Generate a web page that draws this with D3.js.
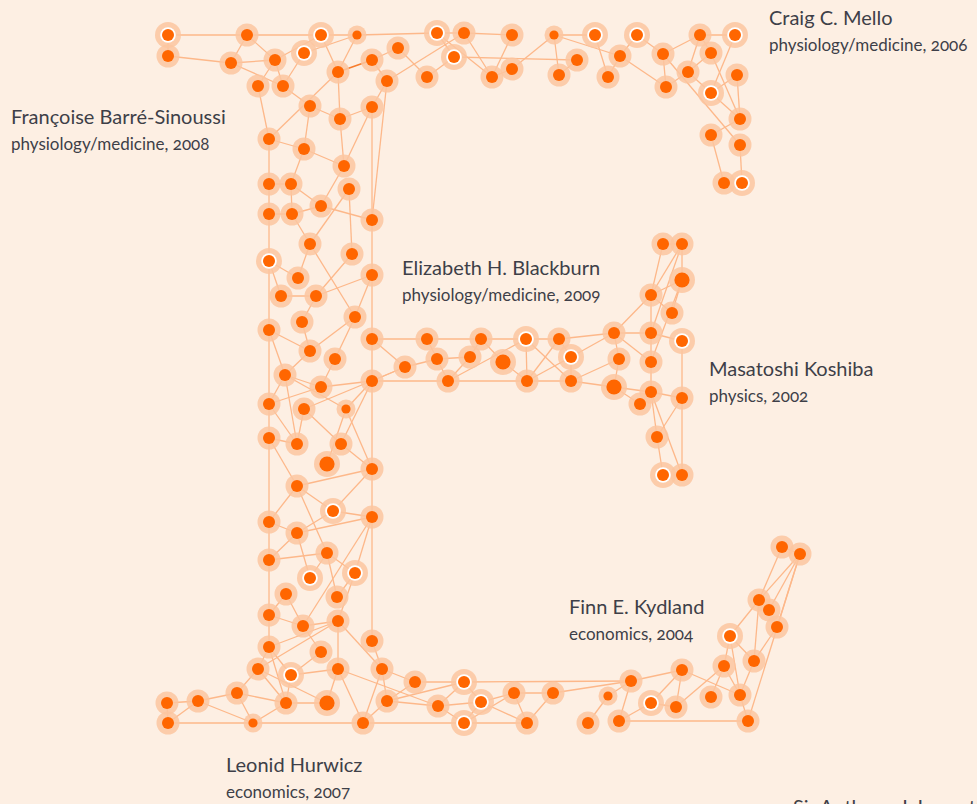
<!DOCTYPE html>
<html>
<head>
<meta charset="utf-8">
<script src="https://cdn.jsdelivr.net/npm/d3@7"></script>
<style>
  html, body { margin: 0; padding: 0; background: #fdefe3; overflow: hidden; }
  svg { display: block; }
  .name { font-family: Lato, "Noto Sans", sans-serif; font-size: 20px; fill: #3e3f48; }
  .field { font-family: Lato, "Noto Sans", sans-serif; font-size: 17px; fill: #3e3f48;
           font-variant-numeric: oldstyle-nums; font-feature-settings: "onum" 1; }
</style>
</head>
<body>
<script>
// node layout positions (px units)
const nodeX = [168,168,247,231,275,258,283,321,357,304,338,372,387,398,427,437,454,464,512,492,
  512,554,595,577,559,608,620,637,663,666,688,700,735,711,737,711,740,711,740,724,
  742,310,340,372,269,304,344,269,291,349,269,292,321,372,310,352,269,298,372,281,
  316,302,355,269,310,372,335,285,321,372,269,304,346,269,297,341,327,372,405,427,
  437,448,470,481,503,526,527,559,571,571,614,619,614,640,651,651,651,651,663,682,
  682,672,682,682,657,663,682,297,333,372,269,297,327,269,355,310,286,337,269,303,
  338,372,269,321,258,291,338,382,237,286,327,387,253,363,198,167,168,415,464,438,
  481,464,514,527,553,588,608,631,619,651,682,676,711,724,730,740,748,754,759,769,
  777,782,800];
const nodeY = [35,56,35,63,60,86,86,35,35,53,72,60,81,48,77,33,57,33,35,77,
  69,35,35,60,75,77,56,35,54,87,72,35,35,53,75,93,119,135,145,183,
  183,106,119,107,139,149,166,184,184,189,214,214,206,220,244,254,261,278,275,296,
  296,322,317,330,351,339,359,375,387,381,404,409,409,438,444,444,464,469,367,339,
  359,381,357,339,362,339,381,339,357,381,333,359,387,404,295,333,362,392,244,244,
  280,313,341,398,437,475,475,486,511,517,522,533,553,560,573,578,594,597,615,626,
  621,641,647,652,669,675,669,669,693,703,703,701,723,723,701,703,723,682,682,706,
  702,723,693,723,693,723,696,681,721,703,670,707,697,666,636,695,721,661,600,610,
  627,547,554];

// 1 = minor, 2 = regular, 3 = major
const minorNodes = [8,21,72,132,146];
const majorNodes = [76,84,92,100,130];
// nodes drawn with a white ring
const featuredNodes = [0,7,9,15,16,22,27,32,35,40,56,85,88,102,105,108,114,115,125,138,140,141,149,154];

const links = [
  [0,2],[2,7],[7,8],[8,15],[15,17],[0,1],[1,3],[2,3],[2,4],[3,4],[4,7],[4,5],[4,6],[3,6],[6,9],[9,8],
  [7,10],[10,8],[10,11],[11,13],[11,12],[13,14],[12,17],[14,16],[15,16],[5,44],[6,41],[44,10],[10,42],
  [41,42],[41,45],[42,43],[43,46],[12,43],[43,53],[12,53],[44,45],[45,48],[42,46],[45,46],[44,47],
  [48,52],[46,52],[16,23],[15,19],[17,18],[17,19],[18,19],[19,20],[20,21],[21,22],[21,24],[21,26],
  [24,23],[22,25],[25,26],[26,27],[27,28],[26,29],[28,29],[28,31],[29,30],[30,31],[31,32],[31,33],
  [30,33],[30,35],[35,32],[35,34],[34,36],[36,35],[33,36],[28,38],[36,37],[37,39],[38,40],[39,40],
  [47,48],[48,51],[50,51],[51,52],[52,53],[49,54],[49,55],[51,54],[54,57],[54,62],[47,50],[50,56],
  [56,57],[56,59],[59,60],[55,60],[58,60],[60,61],[58,62],[53,58],[58,65],[61,64],[63,64],[62,64],
  [62,66],[64,67],[63,67],[56,63],[65,79],[65,78],[67,68],[67,72],[66,68],[68,69],[70,68],[70,67],
  [71,78],[69,81],[69,72],[69,75],[67,74],[71,74],[71,75],[72,76],[72,77],[75,77],[73,74],[70,74],
  [73,107],[107,77],[69,77],[63,70],[70,73],[69,78],[65,69],
  [79,83],[83,85],[85,87],[87,90],[90,95],[78,80],[79,80],[80,82],[80,81],[82,83],[81,82],[81,85],
  [83,84],[84,86],[81,86],[86,89],[85,86],[85,89],[87,86],[86,88],[87,88],[88,89],[88,90],[89,91],
  [91,90],[90,96],[91,92],[92,93],[89,92],[90,94],[94,98],[94,99],[94,100],[94,101],[98,99],[99,95],
  [99,100],[100,101],[100,96],[95,94],[95,102],[95,96],[96,97],[97,92],[97,93],[97,103],[102,103],
  [97,104],[97,106],[103,104],[104,105],[105,106],[103,106],
  [107,110],[107,108],[107,112],[108,77],[108,109],[108,111],[111,109],[110,111],[111,113],[111,115],
  [113,112],[112,115],[112,114],[112,117],[114,117],[114,109],[114,120],[109,119],[116,118],[116,119],
  [118,119],[119,120],[122,120],[119,123],[120,126],[120,127],[121,127],[77,109],[109,121],[123,125],
  [125,126],[122,124],[122,125],[122,129],[124,129],[124,130],[128,129],[125,129],[129,130],[132,129],
  [130,126],[126,133],[127,133],[127,131],[126,139],[133,131],[131,137],[127,137],[73,110],[110,113],
  [113,118],[118,122],[124,120],
  [135,134],[135,136],[136,134],[134,128],[134,132],[128,124],[128,132],[136,133],
  [133,141],[137,138],[138,147],[131,138],[131,139],[139,138],[139,140],[139,141],[138,140],[140,141],
  [140,142],[141,142],[141,143],[140,143],[142,144],[142,143],[143,144],[144,147],[145,146],[146,147],
  [147,148],[148,149],[147,150],[149,150],[149,151],[150,151],[151,153],[148,156],[150,155],[152,153],
  [153,154],[153,155],[154,155],[154,157],[154,158],[155,156],[155,157],[157,160],[157,158],[158,161],
  [158,162],[159,162],[160,162],[156,162],[161,162]
];
// the one link drawn in a stronger tone
const strongLinks = [[10,11]];

const laureateNames = ["Craig C. Mello", "Françoise Barré-Sinoussi", "Elizabeth H. Blackburn",
  "Masatoshi Koshiba", "Finn E. Kydland", "Leonid Hurwicz", "Sir Anthony J. Leggett"];
const laureateFields = ["physiology/medicine, 2006", "physiology/medicine, 2008", "physiology/medicine, 2009",
  "physics, 2002", "economics, 2004", "economics, 2007", "physics, 2003"];
const labelX = [769, 11, 402, 709, 569, 226, 793];
const labelY = [25, 124, 275, 376, 614, 772, 814];

const width = 977, height = 804;

const svg = d3.select("body").append("svg")
  .attr("width", width)
  .attr("height", height);

svg.append("rect").attr("width", width).attr("height", height).attr("fill", "#fdefe3");

const x = d3.scaleLinear().domain([0, 977]).range([0, width]);
const y = d3.scaleLinear().domain([0, 804]).range([0, height]);

const nodes = nodeX.map((d, i) => ({
  i: i,
  x: nodeX[i],
  y: nodeY[i],
  weight: minorNodes.includes(i) ? 1 : (majorNodes.includes(i) ? 3 : 2),
  featured: featuredNodes.includes(i)
}));

const dotR = d3.scaleOrdinal().domain([1, 2, 3]).range([4.6, 6, 7.6]);
const haloR = d3.scaleOrdinal().domain([1, 2, 3]).range([9.5, 11.5, 13]);

const isStrong = l => strongLinks.some(s => s[0] === l[0] && s[1] === l[1]);

// links
svg.append("g")
  .selectAll("line")
  .data(links)
  .join("line")
  .attr("x1", d => x(nodes[d[0]].x))
  .attr("y1", d => y(nodes[d[0]].y))
  .attr("x2", d => x(nodes[d[1]].x))
  .attr("y2", d => y(nodes[d[1]].y))
  .attr("stroke", d => isStrong(d) ? "#f77d2e" : "#fdb88a")
  .attr("stroke-width", d => isStrong(d) ? 1.6 : 1.3);

// halos
svg.append("g")
  .selectAll("circle")
  .data(nodes)
  .join("circle")
  .attr("cx", d => x(d.x))
  .attr("cy", d => y(d.y))
  .attr("r", d => d.featured ? 13 : haloR(d.weight))
  .attr("fill", "#fcc6a0")
  .attr("fill-opacity", 0.85);

// white rings for featured nodes
svg.append("g")
  .selectAll("circle")
  .data(nodes.filter(d => d.featured))
  .join("circle")
  .attr("cx", d => x(d.x))
  .attr("cy", d => y(d.y))
  .attr("r", 7.8)
  .attr("fill", "#ffffff");

// dots
svg.append("g")
  .selectAll("circle")
  .data(nodes)
  .join("circle")
  .attr("cx", d => x(d.x))
  .attr("cy", d => y(d.y))
  .attr("r", d => dotR(d.weight))
  .attr("fill", "#ff6600");

// laureate labels
const labels = svg.append("g")
  .selectAll("g")
  .data(laureateNames)
  .join("g")
  .attr("transform", (d, i) => `translate(${labelX[i]},${labelY[i]})`);

labels.append("text").attr("class", "name").text(d => d);
labels.append("text").attr("class", "field").attr("y", 26).text((d, i) => laureateFields[i]);
</script>
</body>
</html>
